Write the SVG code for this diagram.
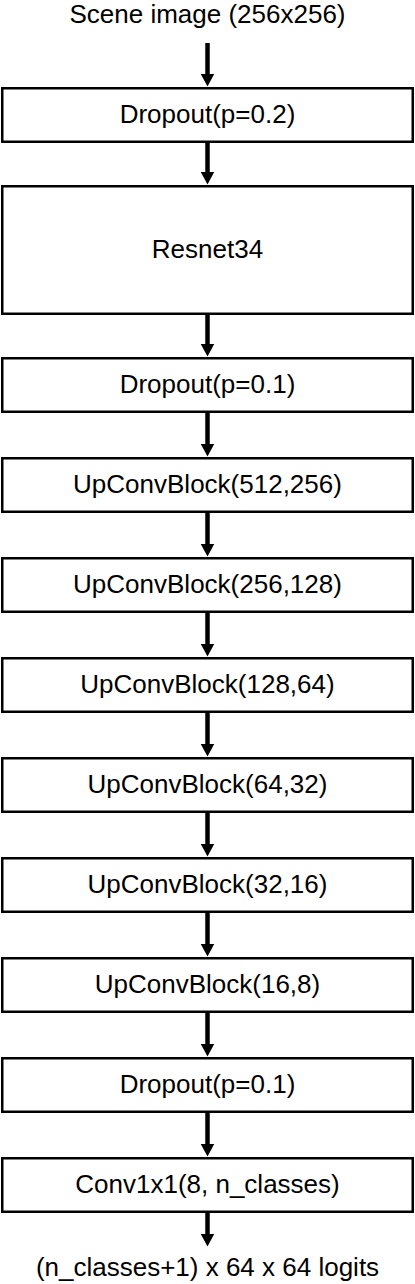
<svg xmlns="http://www.w3.org/2000/svg" width="415" height="1284" viewBox="0 0 415 1284">
<style>
  .box { fill: #ffffff; stroke: #000000; stroke-width: 2.5; }
  .lbl { font-family: "Liberation Sans", Arial, Helvetica, sans-serif; font-size: 26px; fill: #000000; text-anchor: middle; }
  .arr { stroke: #000000; stroke-width: 4.5; fill: none; marker-end: url(#head); }
</style>
<defs>
  <marker id="head" viewBox="0 0 13 14" markerWidth="13" markerHeight="14" refX="0.5" refY="7" orient="auto" markerUnits="userSpaceOnUse">
    <path d="M0,0 L13,7 L0,14 Z" fill="#000000"/>
  </marker>
</defs>
<rect width="415" height="1284" fill="#ffffff"/>
<g id="input"><text class="lbl" x="207.5" y="23">Scene image (256x256)</text></g>
<g id="dropout1"><rect class="box" x="2.25" y="88.25" width="410.5" height="53.5"/><text class="lbl" x="207.5" y="123">Dropout(p=0.2)</text></g>
<g id="resnet"><rect class="box" x="2.25" y="186.25" width="410.5" height="127.5"/><text class="lbl" x="207.5" y="258">Resnet34</text></g>
<g id="dropout2"><rect class="box" x="2.25" y="358.25" width="410.5" height="53.5"/><text class="lbl" x="207.5" y="393">Dropout(p=0.1)</text></g>
<g id="up1"><rect class="box" x="2.25" y="458.25" width="410.5" height="53.5"/><text class="lbl" x="207.5" y="493">UpConvBlock(512,256)</text></g>
<g id="up2"><rect class="box" x="2.25" y="558.25" width="410.5" height="53.5"/><text class="lbl" x="207.5" y="593">UpConvBlock(256,128)</text></g>
<g id="up3"><rect class="box" x="2.25" y="658.25" width="410.5" height="53.5"/><text class="lbl" x="207.5" y="693">UpConvBlock(128,64)</text></g>
<g id="up4"><rect class="box" x="2.25" y="758.25" width="410.5" height="53.5"/><text class="lbl" x="207.5" y="793">UpConvBlock(64,32)</text></g>
<g id="up5"><rect class="box" x="2.25" y="858.25" width="410.5" height="53.5"/><text class="lbl" x="207.5" y="893">UpConvBlock(32,16)</text></g>
<g id="up6"><rect class="box" x="2.25" y="958.25" width="410.5" height="53.5"/><text class="lbl" x="207.5" y="993">UpConvBlock(16,8)</text></g>
<g id="dropout3"><rect class="box" x="2.25" y="1058.25" width="410.5" height="53.5"/><text class="lbl" x="207.5" y="1093">Dropout(p=0.1)</text></g>
<g id="conv"><rect class="box" x="2.25" y="1158.25" width="410.5" height="53.5"/><text class="lbl" x="207.5" y="1193">Conv1x1(8, n_classes)</text></g>
<g id="output"><text class="lbl" x="207.5" y="1276">(n_classes+1) x 64 x 64 logits</text></g>
<g id="connectors">
  <line class="arr" x1="207.5" y1="43" x2="207.5" y2="74"/>
  <line class="arr" x1="207.5" y1="143" x2="207.5" y2="172"/>
  <line class="arr" x1="207.5" y1="315" x2="207.5" y2="344"/>
  <line class="arr" x1="207.5" y1="413" x2="207.5" y2="444"/>
  <line class="arr" x1="207.5" y1="513" x2="207.5" y2="544"/>
  <line class="arr" x1="207.5" y1="613" x2="207.5" y2="644"/>
  <line class="arr" x1="207.5" y1="713" x2="207.5" y2="744"/>
  <line class="arr" x1="207.5" y1="813" x2="207.5" y2="844"/>
  <line class="arr" x1="207.5" y1="913" x2="207.5" y2="944"/>
  <line class="arr" x1="207.5" y1="1013" x2="207.5" y2="1044"/>
  <line class="arr" x1="207.5" y1="1113" x2="207.5" y2="1144"/>
  <line class="arr" x1="207.5" y1="1213" x2="207.5" y2="1234"/>
</g>
</svg>
